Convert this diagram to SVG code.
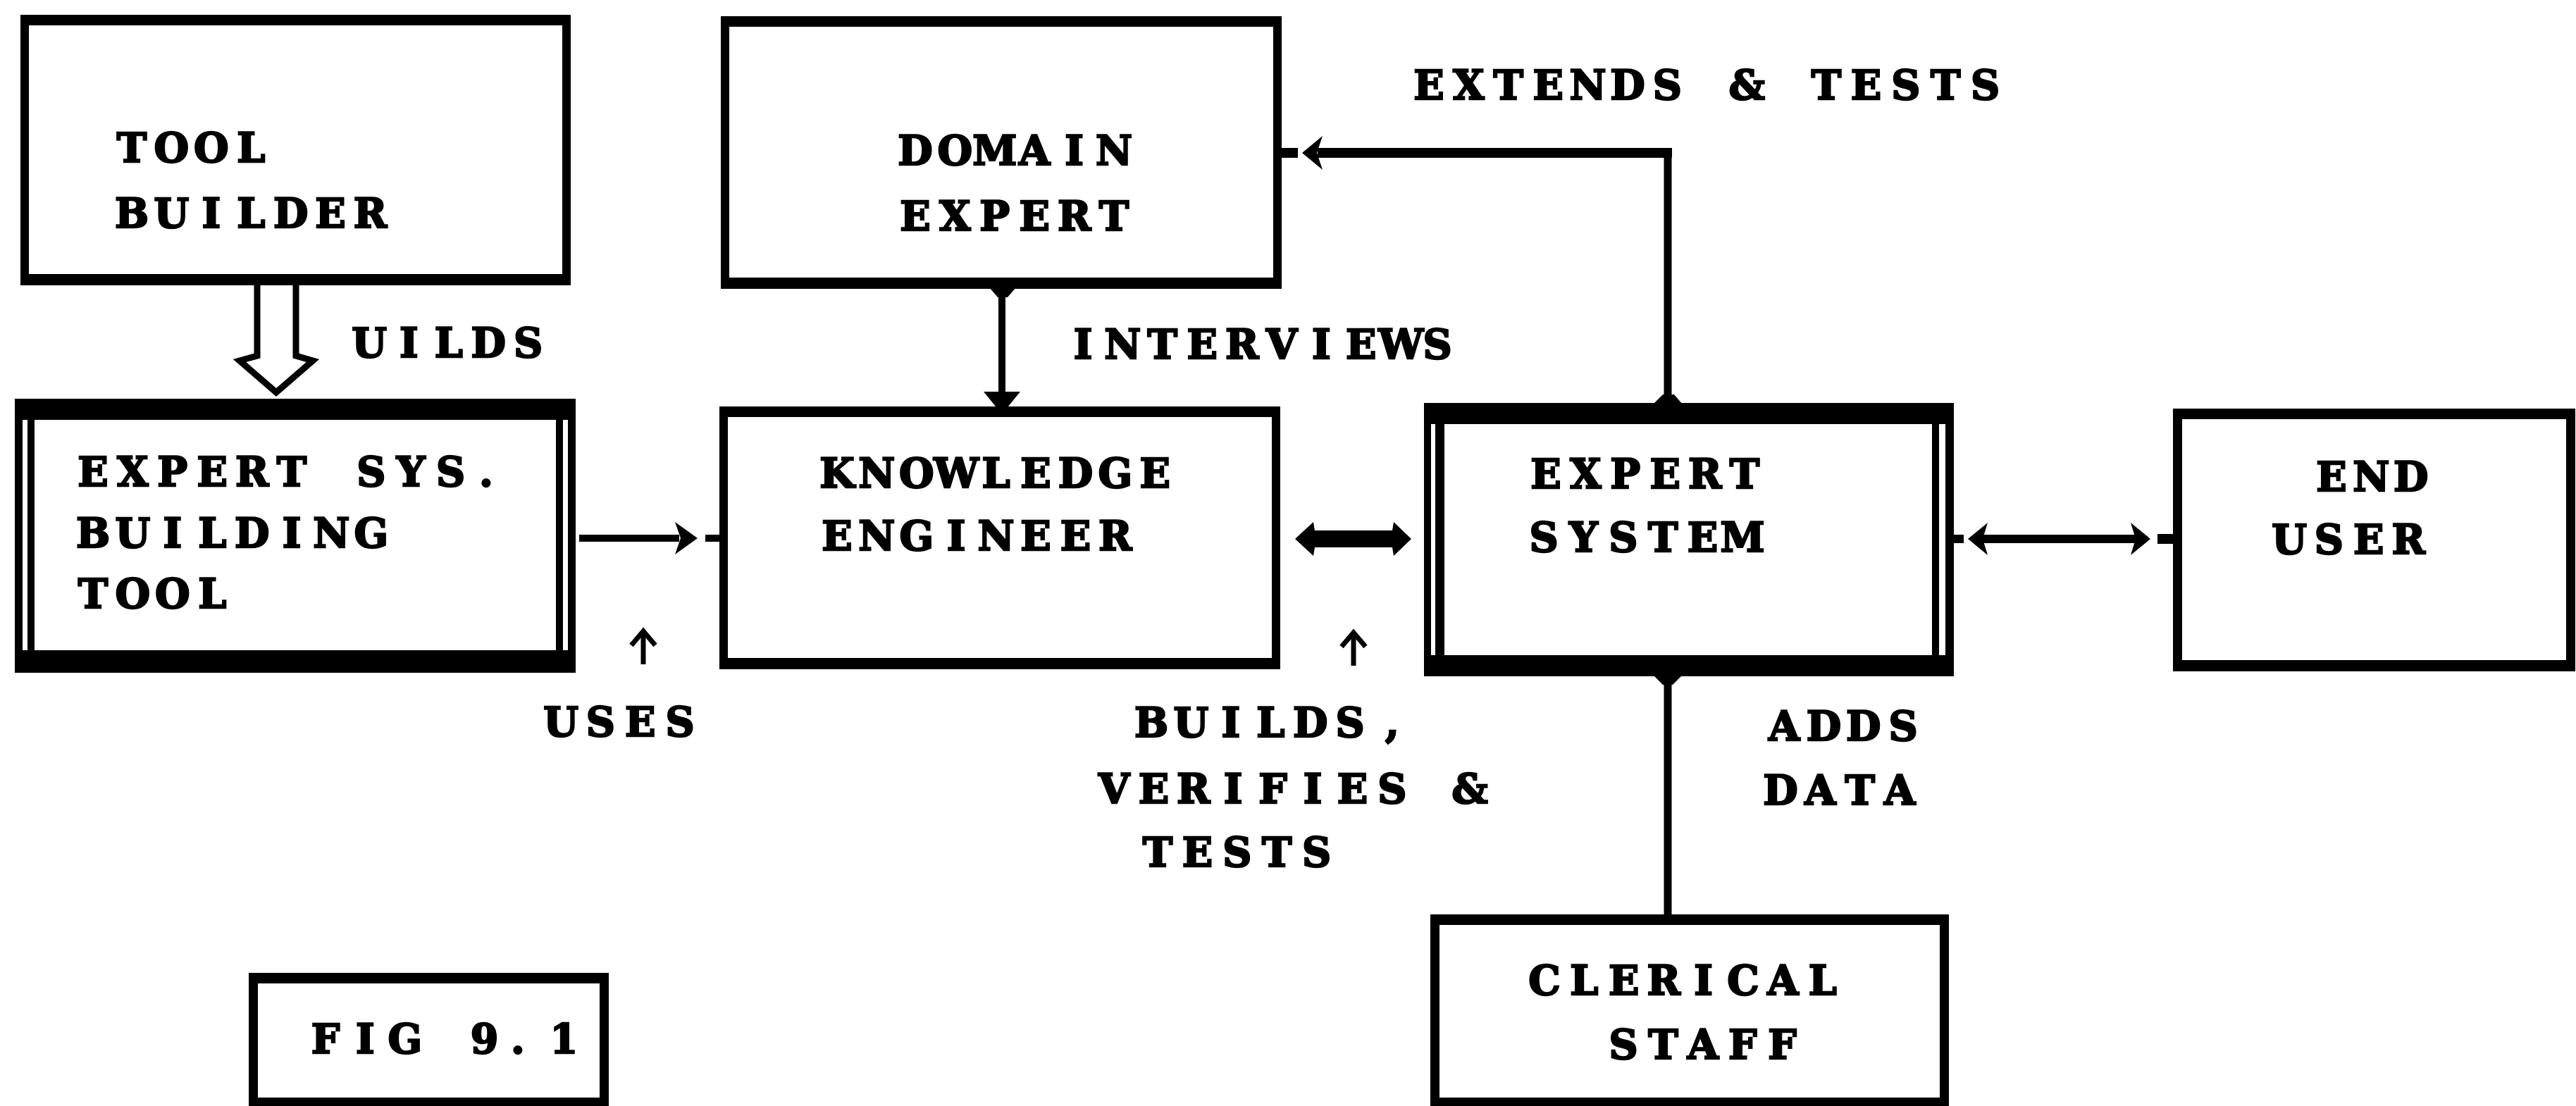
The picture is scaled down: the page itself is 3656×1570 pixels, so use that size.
<svg xmlns="http://www.w3.org/2000/svg" width="3656" height="1570" viewBox="0 0 3656 1570">
  <defs>
    <style>
      .ink { fill: #000; }
      .paper { fill: #fff; }
      .t { font-family: "DejaVu Serif", "Liberation Serif", serif; font-weight: bold; font-size: 57px; fill: #000; stroke: #000; stroke-width: 2.5; text-anchor: middle; }
      .v { stroke: #000; stroke-width: 11; fill: none; }
      .h { stroke: #000; stroke-width: 14; fill: none; }
      .thin { stroke: #000; stroke-width: 9; fill: none; stroke-linejoin: miter; }
      .mark { stroke: #000; stroke-width: 7; fill: none; }
    </style>
  </defs>

  <rect width="3656" height="1570" fill="#fff"/>

  <!-- single-frame boxes: black block with a white interior inset -->
  <g id="tool-builder">
    <rect class="ink" x="29" y="21" width="781" height="384"/>
    <rect class="paper" x="41" y="36" width="757" height="353"/>
    <text class="t"><tspan x="187 243.4 299.8 356.2" y="230">TOOL</tspan><tspan x="187 243.4 299.8 356.2 412.6 469 525.4" y="323">BUILDER</tspan></text>
  </g>

  <g id="domain-expert">
    <rect class="ink" x="1023" y="23" width="796" height="387"/>
    <rect class="paper" x="1035" y="38" width="772" height="356"/>
    <text class="t"><tspan x="1299 1355.4 1411.8 1468.2 1524.6 1581" y="234">DOMAIN</tspan><tspan x="1299 1355.4 1411.8 1468.2 1524.6 1581" y="327">EXPERT</tspan></text>
  </g>

  <!-- double-frame box -->
  <g id="expert-sys-building-tool">
    <rect class="ink" x="21" y="566" width="796" height="389"/>
    <rect class="paper" x="32" y="596" width="774" height="327"/>
    <rect class="ink" x="39" y="596" width="760" height="327"/>
    <rect class="paper" x="49" y="596" width="740" height="327"/>
    <text class="t"><tspan x="132 188.4 244.8 301.2 357.6 414 470.4 526.8 583.2 639.6 690" y="690">EXPERT SYS.</tspan><tspan x="132 188.4 244.8 301.2 357.6 414 470.4 526.8" y="777">BUILDING</tspan><tspan x="132 188.4 244.8 301.2" y="863">TOOL</tspan></text>
  </g>

  <g id="knowledge-engineer">
    <rect class="ink" x="1021" y="577" width="796" height="373"/>
    <rect class="paper" x="1033" y="592" width="772" height="342"/>
    <text class="t"><tspan x="1188 1244.4 1300.8 1357.2 1413.6 1470 1526.4 1582.8 1639.2" y="692">KNOWLEDGE</tspan><tspan x="1188 1244.4 1300.8 1357.2 1413.6 1470 1526.4 1582.8" y="781">ENGINEER</tspan></text>
  </g>

  <!-- double-frame box -->
  <g id="expert-system">
    <rect class="ink" x="2021" y="572" width="752" height="388"/>
    <rect class="paper" x="2031" y="602" width="730" height="328"/>
    <rect class="ink" x="2037" y="602" width="715" height="328"/>
    <rect class="paper" x="2050" y="602" width="692" height="328"/>
    <text class="t"><tspan x="2194 2250.4 2306.8 2363.2 2419.6 2476" y="693">EXPERT</tspan><tspan x="2191 2247.4 2303.8 2360.2 2416.6 2473" y="783">SYSTEM</tspan></text>
  </g>

  <g id="end-user">
    <rect class="ink" x="3084" y="580" width="571" height="373"/>
    <rect class="paper" x="3097" y="595" width="545" height="342"/>
    <text class="t"><tspan x="3309 3365.4 3421.8" y="697">END</tspan><tspan x="3249 3305.4 3361.8 3418.2" y="786">USER</tspan></text>
  </g>

  <g id="clerical-staff">
    <rect class="ink" x="2030" y="1298" width="736" height="272"/>
    <rect class="paper" x="2043" y="1313" width="710" height="245"/>
    <text class="t"><tspan x="2192 2248.4 2304.8 2361.2 2417.6 2474 2530.4 2586.8" y="1412">CLERICAL</tspan><tspan x="2304 2360.4 2416.8 2473.2 2529.6" y="1503">STAFF</tspan></text>
  </g>

  <g id="fig-caption">
    <rect class="ink" x="353" y="1381" width="511" height="189"/>
    <rect class="paper" x="366" y="1396" width="485" height="162"/>
    <text class="t"><tspan x="462 518.4 574.8 631.2 687.6 735 800.4" y="1495">FIG 9.1</tspan></text>
  </g>

  <!-- connectors -->
  <g id="connectors">
    <!-- hollow arrow: tool builder builds the building tool -->
    <path class="thin" d="M365,405 V505 L340,512 L392,557 L444,512 L420,505 V405"/>

    <!-- building tool to knowledge engineer -->
    <line class="h" x1="822" y1="764" x2="964" y2="764" style="stroke-width:10"/>
    <polygon class="ink" points="990,764 958,741 966,764 958,787"/>
    <line class="h" x1="1001" y1="764" x2="1021" y2="764" style="stroke-width:10"/>

    <!-- domain expert interviewed by knowledge engineer -->
    <polygon class="ink" points="1404,408 1442,408 1430,422 1416,422"/>
    <line class="v" x1="1422" y1="410" x2="1422" y2="566" style="stroke-width:10"/>
    <polygon class="ink" points="1396,556 1448,556 1422,588"/>

    <!-- expert system extends and tests back to domain expert -->
    <polygon class="ink" points="2346,574 2388,574 2376,560 2360,560"/>
    <line class="v" x1="2367" y1="572" x2="2367" y2="211"/>
    <line class="h" x1="2373" y1="217" x2="1870" y2="217"/>
    <polygon class="ink" points="1848,217 1877,193 1869,217 1877,241"/>
    <line class="h" x1="1819" y1="217" x2="1842" y2="217"/>

    <!-- heavy two-way arrow: knowledge engineer and expert system -->
    <polygon class="ink" points="1838,765 1864,741 1866,753 1976,753 1978,741 2003,765 1978,789 1976,777 1866,777 1864,789"/>

    <!-- two-way arrow: expert system and end user -->
    <line class="h" x1="2773" y1="765" x2="2787" y2="765" style="stroke-width:12"/>
    <polygon class="ink" points="2793,765 2821,742 2814,765 2821,788"/>
    <line class="h" x1="2812" y1="765" x2="3032" y2="765" style="stroke-width:12"/>
    <polygon class="ink" points="3052,765 3024,742 3031,765 3024,788"/>
    <line class="h" x1="3062" y1="765" x2="3084" y2="765"/>

    <!-- clerical staff adds data -->
    <polygon class="ink" points="2346,958 2388,958 2374,972 2360,972"/>
    <line class="v" x1="2367" y1="960" x2="2367" y2="1298"/>

    <!-- small upward pointers under the labels -->
    <line class="mark" x1="913" y1="943" x2="913" y2="898"/>
    <polyline class="mark" points="896,916 913,896 930,916"/>
    <line class="mark" x1="1921" y1="945" x2="1921" y2="900"/>
    <polyline class="mark" points="1904,918 1921,898 1938,918"/>
  </g>

  <!-- connector labels -->
  <g id="labels">
    <text class="t"><tspan x="2028 2084.4 2140.8 2197.2 2253.6 2310 2366.4 2422.8 2479.2 2535.6 2592 2648.4 2704.8 2761.2 2817.6" y="141">EXTENDS &amp; TESTS</tspan></text>
    <text class="t"><tspan x="524 580.4 636.8 693.2 749.6" y="507">UILDS</tspan></text>
    <text class="t"><tspan x="1537 1593.4 1649.8 1706.2 1762.6 1819 1875.4 1931.8 1988.2 2040" y="509">INTERVIEWS</tspan></text>
    <text class="t"><tspan x="796 852.4 908.8 965.2" y="1045">USES</tspan></text>
    <text class="t"><tspan x="1634 1690.4 1746.8 1803.2 1859.6 1916 1976" y="1046">BUILDS,</tspan><tspan x="1581 1637.4 1693.8 1750.2 1806.6 1863 1919.4 1975.8 2032.2 2086" y="1140">VERIFIES &amp;</tspan><tspan x="1643 1699.4 1755.8 1812.2 1868.6" y="1230">TESTS</tspan></text>
    <text class="t"><tspan x="2532 2588.4 2644.8 2701.2" y="1051">ADDS</tspan><tspan x="2527 2583.4 2639.8 2696.2" y="1142">DATA</tspan></text>
  </g>
</svg>
